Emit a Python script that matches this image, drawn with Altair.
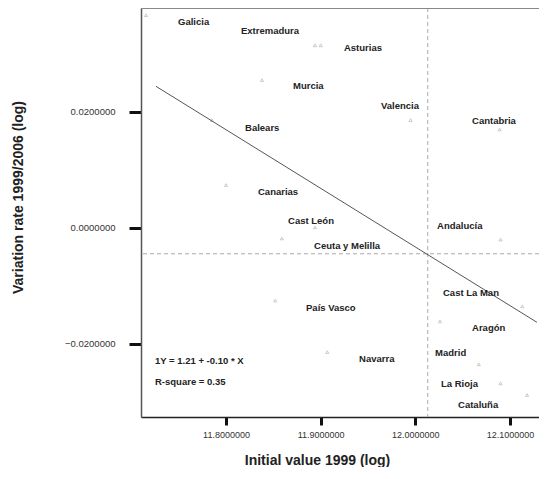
import altair as alt
import pandas as pd

# Region names and their plotted values (log initial value 1999, log variation rate)
regions = ["Galicia", "Extremadura", "Asturias", "Murcia", "Balears", "Valencia",
           "Cantabria", "Canarias", "Cast León", "Ceuta y Melilla", "Andalucía",
           "País Vasco", "Navarra", "Cast La Man", "Aragón", "Madrid", "La Rioja",
           "Cataluña"]
x_vals = [11.7155, 11.894, 11.900, 11.838, 11.785, 11.995,
          12.089, 11.800, 11.894, 11.859, 12.090,
          11.852, 11.907, 12.113, 12.026, 12.067, 12.090,
          12.118]
y_vals = [0.0367, 0.0315, 0.0315, 0.0255, 0.0186, 0.0186,
          0.0170, 0.0074, 0.0001, -0.0018, -0.0020,
          -0.0125, -0.0214, -0.0135, -0.0161, -0.0235, -0.0268,
          -0.0288]
# label anchor positions (data coordinates, left edge of text)
label_x = [11.7493, 11.8158, 11.9246, 11.8708, 11.8201, 11.9637,
           12.0599, 11.8338, 11.8655, 11.8930, 12.0229,
           11.8845, 11.9405, 12.0292, 12.0599, 12.0208, 12.0271,
           12.0451]
label_y = [0.03543, 0.03388, 0.03095, 0.02440, 0.01716, 0.02095,
           0.01853, 0.00612, 0.00129, -0.00302, 0.00026,
           -0.01371, -0.02267, -0.01129, -0.01716, -0.02164, -0.02698,
           -0.03060]
label_text = ["Galicia", "Extremadura", "Asturias", "Murcia", "Balears", "Valencia",
              "Cantabria", "Canarias", "Cast León", "Ceuta y  Melilla", "Andalucía",
              "País  Vasco", "Navarra", "Cast La  Man", "Aragón", "Madrid", "La Rioja",
              "Cataluña"]

# fitted line endpoints
fit_x = [11.726, 12.1284]
fit_y = [0.02443, -0.01626]

# reference (mean) lines
mean_x = 12.0131
mean_y = -0.00445

# annotation
ann_text = ["1Y = 1.21 + -0.10  * X", "R-square = 0.35"]
ann_x = [11.725, 11.725]
ann_y = [-0.02302, -0.02647]

x_ticks = [11.8, 11.9, 12.0, 12.1]
y_ticks = [-0.02, 0.0, 0.02]

X_DOMAIN = [11.71021, 12.1306]
Y_DOMAIN = [-0.03259, 0.03793]
W, H = 398, 409
FONT = "Liberation Sans"

pts = pd.DataFrame({"region": regions, "x": x_vals, "y": y_vals})
lbl = pd.DataFrame({"text": label_text, "x": label_x, "y": label_y})
fit = pd.DataFrame({"x": fit_x, "y": fit_y})
ann = pd.DataFrame({"text": ann_text, "x": ann_x, "y": ann_y})

xs = alt.Scale(domain=X_DOMAIN, nice=False, zero=False)
ys = alt.Scale(domain=Y_DOMAIN, nice=False, zero=False)

x_axis = alt.Axis(values=x_ticks, format=".7f", grid=False,
                  title="Initial value 1999 (log)",
                  titleFont=FONT, titleFontSize=14, titleFontWeight="bold",
                  titleColor="#222", titleX=176, titleY=43,
                  titleBaseline="middle", titleAlign="center",
                  labelFont=FONT, labelFontSize=9, labelColor="#333",
                  labelPadding=5, tickSize=8, tickWidth=3, tickColor="#111",
                  domainColor="#222", domainWidth=1.5)
y_axis = alt.Axis(values=y_ticks, format=".7f", grid=False,
                  title="Variation rate 1999/2006 (log)",
                  titleFont=FONT, titleFontSize=14, titleFontWeight="bold",
                  titleColor="#222", titleX=-123, titleY=189, titleAngle=270,
                  titleBaseline="middle", titleAlign="center",
                  labelFont=FONT, labelFontSize=9.5, labelColor="#333",
                  labelPadding=14, tickSize=12, tickWidth=3, tickColor="#111",
                  domainColor="#555", domainWidth=1.5)

points = alt.Chart(pts).mark_point(shape="triangle-up", size=10, filled=False,
                                   color="#9a9a9a", strokeWidth=0.7).encode(
    x=alt.X("x:Q", scale=xs, axis=x_axis),
    y=alt.Y("y:Q", scale=ys, axis=y_axis),
)

labels = alt.Chart(lbl).mark_text(align="left", baseline="middle", font=FONT,
                                  fontSize=9.5, fontWeight="bold", color="#222").encode(
    x=alt.X("x:Q", scale=xs), y=alt.Y("y:Q", scale=ys), text="text:N")

fit_line = alt.Chart(fit).mark_line(color="#555", strokeWidth=1).encode(
    x=alt.X("x:Q", scale=xs), y=alt.Y("y:Q", scale=ys))

vline = alt.Chart(pd.DataFrame({"x": [mean_x]})).mark_rule(
    color="#aaa", strokeDash=[4, 3], strokeWidth=1).encode(
    x=alt.X("x:Q", scale=xs))
hline = alt.Chart(pd.DataFrame({"y": [mean_y]})).mark_rule(
    color="#aaa", strokeDash=[4, 3], strokeWidth=1).encode(
    y=alt.Y("y:Q", scale=ys))

top_border = alt.Chart(pd.DataFrame({"a": [0]})).mark_rule(
    color="#888", strokeWidth=2).encode(
    x=alt.value(0), x2=alt.value(W + 10), y=alt.value(0))

annot = alt.Chart(ann).mark_text(align="left", baseline="middle", font=FONT,
                                 fontSize=9.5, fontWeight="bold", color="#222").encode(
    x=alt.X("x:Q", scale=xs), y=alt.Y("y:Q", scale=ys), text="text:N")

chart = alt.layer(points, vline, hline, fit_line, labels, annot, top_border).properties(
    width=W, height=H,
    autosize=alt.AutoSizeParams(type="none"),
    padding={"left": 133, "top": 0, "right": 0, "bottom": 50},
).configure_view(stroke=None)

chart.save("out.html", embed_options={"renderer": "svg", "actions": False})
